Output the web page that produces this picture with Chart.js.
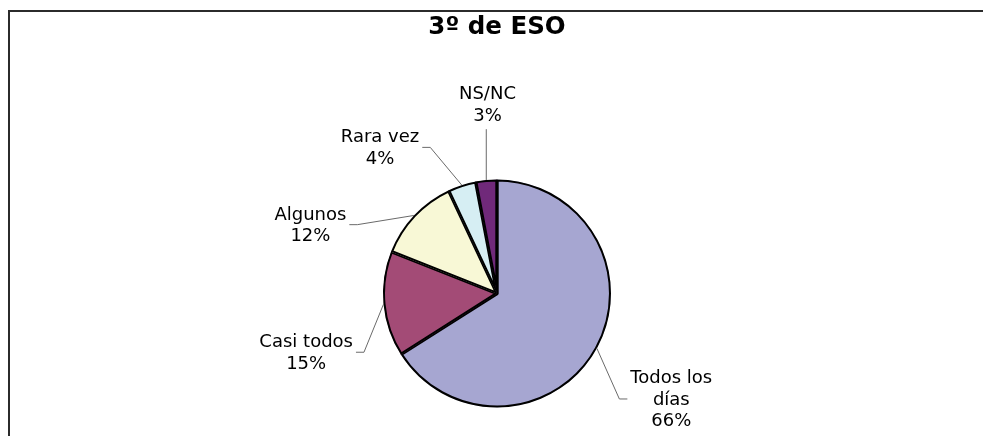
<!DOCTYPE html>
<html><head><meta charset="utf-8">
<script src="https://cdn.jsdelivr.net/npm/chart.js@4"></script>
<style>html,body{margin:0;padding:0;background:#fff;overflow:hidden}canvas{display:block}</style>
</head><body>
<canvas id="c" width="983" height="436"></canvas>
<script>
const categories = ['Todos los días', 'Casi todos', 'Algunos', 'Rara vez', 'NS/NC'];
const values = [66, 15, 12, 4, 3];
const percentLabels = ['66%', '15%', '12%', '4%', '3%'];
const labelLines = [['Todos los', 'días'], ['Casi todos'], ['Algunos'], ['Rara vez'], ['NS/NC']];
const titleText = '3º de ESO';

// styling / layout (not data)
const colors = ['#A6A6D1', '#A34B76', '#F8F8D6', '#D6EEF3', '#70297A'];
const labelOffsets = [[1.529, 0.934], [-1.674, 0.524], [-1.637, -0.595], [-1.026, -1.273], [-0.0837, -1.652]];
const FONT = '"DejaVu Sans", Verdana, sans-serif';

const framePlugin = {
  id: 'frame',
  beforeDraw(chart) {
    const ctx = chart.ctx;
    ctx.save();
    ctx.fillStyle = '#fff';
    ctx.fillRect(0, 0, chart.width, chart.height);
    ctx.strokeStyle = '#2b2b2b';
    ctx.lineWidth = 2;
    ctx.strokeRect(9, 11, chart.width + 20, chart.height + 20);
    ctx.restore();
  }
};

const labelPlugin = {
  id: 'pieLabels',
  afterDatasetsDraw(chart) {
    const ctx = chart.ctx;
    const meta = chart.getDatasetMeta(0);
    const lh = 21.5;
    ctx.save();
    ctx.font = '18px ' + FONT;
    meta.data.forEach((arc, i) => {
      const p = arc.getProps(['x', 'y', 'startAngle', 'endAngle', 'outerRadius'], true);
      const r = p.outerRadius;
      const mid = (p.startAngle + p.endAngle) / 2;
      const ex = p.x + Math.cos(mid) * r, ey = p.y + Math.sin(mid) * r;
      const lines = labelLines[i].concat([percentLabels[i]]);
      const tx = p.x + labelOffsets[i][0] * r, ty = p.y + labelOffsets[i][1] * r;
      const maxW = Math.max(...lines.map(l => ctx.measureText(l).width));
      ctx.strokeStyle = '#6a6a6a';
      ctx.lineWidth = 1;
      ctx.beginPath();
      ctx.moveTo(ex, ey);
      if (Math.abs(tx - ex) < maxW / 2) {
        ctx.lineTo(ex, ty + lines.length * lh / 2 + 2.5);
      } else if (tx > p.x) {
        const ax = tx - maxW / 2 - 3;
        ctx.lineTo(ax - 8, ty - 1);
        ctx.lineTo(ax, ty - 1);
      } else {
        const ax = tx + maxW / 2 + 3;
        ctx.lineTo(ax + 8, ty - 1);
        ctx.lineTo(ax, ty - 1);
      }
      ctx.stroke();
      ctx.fillStyle = '#000';
      ctx.textAlign = 'center';
      ctx.textBaseline = 'middle';
      lines.forEach((l, k) => {
        ctx.fillText(l, tx, ty - (lines.length - 1) * lh / 2 + k * lh);
      });
    });
    ctx.restore();
  }
};

new Chart(document.getElementById('c'), {
  type: 'pie',
  data: {
    labels: categories,
    datasets: [{
      data: values,
      backgroundColor: colors,
      borderColor: '#000',
      borderWidth: 1.7,
      borderAlign: 'inner',
      radius: 114
    }]
  },
  options: {
    responsive: false,
    devicePixelRatio: 1,
    animation: false,
    events: [],
    layout: { padding: { left: 11, right: 0, top: 0, bottom: 0 } },
    plugins: {
      legend: { display: false },
      tooltip: { enabled: false },
      title: {
        display: true,
        text: titleText,
        color: '#000',
        font: { family: FONT, size: 24.5, weight: 'bold' },
        padding: { top: 13, bottom: 108.6 }
      }
    }
  },
  plugins: [framePlugin, labelPlugin]
});
</script>
</body></html>
